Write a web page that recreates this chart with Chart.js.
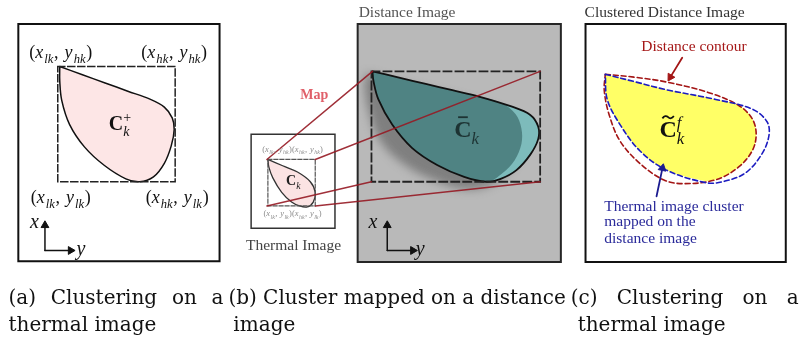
<!DOCTYPE html>
<html><head><meta charset="utf-8">
<script src="https://cdn.jsdelivr.net/npm/chart.js@4.4.1/dist/chart.umd.min.js"></script>
<style>html,body{margin:0;padding:0;background:#fff;overflow:hidden}</style>
</head><body>
<canvas id="c" width="811" height="347"></canvas>
<script>
const W = 811, H = 347;

// ---------- panel (a): clustering on a thermal image ----------
const boxA   = [[13,19],[217,19],[217,264],[13,264],[13,19]];
const rectA  = [[53,63],[172,63],[172,182],[53,182],[53,63]];
const shapeA = [[55,63],[78,71.5],[101,80],[124,88.5],[147,97],[161,105],[169,116],[171,128],[168,145],[161,163],[150,177],[136,182],[122,179],[100,165],[80,146],[65,123],[57,98],[55,78],[55,63]];
const axisAx = [[40,253],[40,227]];
const axisAy = [[40,253],[66,253]];

// ---------- panel (b): cluster mapped on a distance image ----------
const boxB    = [[357,19],[563,19],[563,265],[357,265],[357,19]];
const rectB   = [[371,68],[542,68],[542,182],[371,182],[371,68]];
const shadowB = [[366,70],[420,85],[470,98],[500,108],[520,122],[524,142],[514,165],[494,184],[468,190],[436,181],[404,164],[380,140],[368,108],[364,82],[366,70]];
const tealB   = [[372,68],[399,74.5],[426,81],[453,87.5],[480,94],[512,104],[532,113],[540,125],[540,138],[532,154],[518,170],[502,179],[487,182],[465,177],[438,165],[412,147],[392,123],[378,97],[373,78],[372,68]];
const darkB   = [[372,68],[399,74.5],[426,81],[453,87.5],[480,94],[503,101],[517,112],[523,127],[523,143],[516,160],[504,173],[489,182],[465,177],[438,165],[412,147],[392,123],[378,97],[373,78],[372,68]];
const thermBox   = [[249,133],[334,133],[334,230],[249,230],[249,133]];
const thermRect  = [[266,159],[314,159],[314,207],[266,207],[266,159]];
const thermShape = [[266,159],[281,165.5],[296,172],[309,182],[314,193],[312,203],[306,208],[298,207],[290,203],[280,193],[271,178],[267,167],[266,159]];
const mapLine1 = [[265,159],[372,68]];
const mapLine2 = [[314,159],[542,68]];
const mapLine3 = [[265,207],[371,182]];
const mapLine4 = [[314,207],[542,182]];
const axisBx = [[387,253],[387,227]];
const axisBy = [[387,253],[413,253]];

// ---------- panel (c): clustered distance image ----------
const boxC    = [[588,19],[791,19],[791,265],[588,265],[588,19]];
const yellowC = [[608,71],[639,79],[670,87],[720,97],[745,104],[757,117],[761,133],[757,150],[743,167],[722,179],[708,181],[670,170],[643,150],[623,123],[610,97],[608,71]];
const redC    = [[608,71],[637,74],[670,79],[713,90],[743,103],[757,117],[761,133],[757,150],[743,167],[720,180],[687,184],[667,180],[643,163],[623,140],[612,113],[607,88],[608,71]];
const blueC   = [[608,71],[639,79],[670,87],[720,97],[757,107],[772,120],[774,134],[767,153],[750,173],[727,182],[710,183],[670,170],[643,150],[623,123],[610,97],[608,71]];
const arrowRed  = [[686,54],[674,74]];
const arrowBlue = [[660,197],[666,168]];

// ---------- texts ----------
const mathLabels = [
  {s:'(x_{lk}, y_{hk})', x:56,  y:48,  size:18},
  {s:'(x_{hk}, y_{hk})', x:171, y:48,  size:18},
  {s:'(x_{lk}, y_{lk})', x:56,  y:198, size:18},
  {s:'(x_{hk}, y_{lk})', x:174, y:198, size:18},
  {s:'\\B{C}_k^+', x:116, y:122, size:20},
  {s:'x', x:30, y:223, size:20},
  {s:'y', x:77, y:251, size:20},
  {s:'(x_{lk}, y_{hk})(x_{hk}, y_{hk})', x:291, y:148, size:8.5, color:'#8c8c8c'},
  {s:'(x_{lk}, y_{lk})(x_{hk}, y_{lk})', x:291, y:215, size:8.5, color:'#8c8c8c'},
  {s:'\\B{C}_k', x:292, y:181, size:14, color:'#222'},
  {s:'\\O{C}_k', x:468, y:128, size:24, color:'#1d3333'},
  {s:'x', x:373, y:223, size:20, color:'#111'},
  {s:'y', x:421, y:251, size:20, color:'#111'},
  {s:'\\T{C}_k^f', x:676, y:128, size:24}
];
const textLabels = [
  {t:'Distance Image', x:358, y:8, size:15.5, align:'left', color:'#555'},
  {t:'Clustered Distance Image', x:587, y:8, size:15.5, align:'left', color:'#333'},
  {t:'Thermal Image', x:292, y:248, size:15.5, align:'center', color:'#444'},
  {t:'Map', x:313, y:93, size:14, align:'center', color:'#e0606a', bold:true},
  {t:'Distance contour', x:698, y:43, size:15.5, align:'center', color:'#a51818'},
  {t:'Thermal image cluster', x:607, y:208, size:15.5, align:'left', color:'#2a2a9a'},
  {t:'mapped on the', x:607, y:224, size:15.5, align:'left', color:'#2a2a9a'},
  {t:'distance image', x:607, y:241, size:15.5, align:'left', color:'#2a2a9a'}
];
const captions = [
  {words:['(a)','Clustering','on','a'], x0:3, x1:221, y:303, justify:true},
  {words:['thermal','image'], x0:3, y:331},
  {words:['(b)','Cluster','mapped','on','a','distance'], x0:226, x1:568, y:303, justify:true},
  {words:['image'], x0:231, y:331},
  {words:['(c)','Clustering','on','a'], x0:573, x1:804, y:303, justify:true},
  {words:['thermal','image'], x0:580, y:331}
];

// ---------- datasets ----------
const ds = [];
const P = a => a.map(p => ({x:p[0], y:p[1]}));
function add(points, o){
  ds.push(Object.assign({data:P(points), borderColor:'#111', borderWidth:1.5, pointRadius:0, pointHoverRadius:0,
    tension:0, fill:false, borderCapStyle:'round', borderJoinStyle:'round'}, o||{}));
}
function box(points, o){ add(points, Object.assign({borderCapStyle:'square', borderJoinStyle:'miter'}, o)); }
function arrow(seg, color, w){
  const a = seg[0], b = seg[1];
  const rot = Math.atan2(b[0]-a[0], -(b[1]-a[1])) * 180 / Math.PI;
  add(seg, {borderColor:color, borderWidth:w||1.5, pointRadius:[0,4.5], pointStyle:'triangle', rotation:[0,rot],
    pointBackgroundColor:color, pointBorderColor:color, pointBorderWidth:1});
}
const T = 0.35;

// (b) background + teal cluster
box(boxB, {areaColor:'#b9b9b9', borderColor:'#262626', borderWidth:2});
add(shadowB, {areaColor:'rgba(70,70,70,0.5)', areaBlur:5, borderWidth:0, tension:T});
add(tealB, {areaColor:'#7dbbbb', borderWidth:0, tension:T});
add(darkB, {areaColor:'#4f8383', borderWidth:0, tension:T});
add(tealB, {borderColor:'#111', borderWidth:1.8, tension:T});
box(rectB, {borderColor:'#222', borderWidth:1.8, borderDash:[8,4]});
// thermal image
box(thermBox, {areaColor:'#ffffff', borderColor:'#333', borderWidth:1.5});
add(thermShape, {areaColor:'#fbe3e3', borderColor:'#333', borderWidth:1.3, tension:T});
box(thermRect, {borderColor:'#555', borderWidth:1.2, borderDash:[4,2]});
// map lines
[mapLine1, mapLine2, mapLine3, mapLine4].forEach(l => add(l, {borderColor:'rgba(150,25,35,0.9)', borderWidth:1.5}));
// (a)
box(boxA, {borderColor:'#111', borderWidth:2});
add(shapeA, {areaColor:'#fde6e6', borderColor:'#111', borderWidth:1.5, tension:T});
box(rectA, {borderColor:'#222', borderWidth:1.5, borderDash:[7,3]});
arrow(axisAx, '#111'); arrow(axisAy, '#111');
arrow(axisBx, '#111'); arrow(axisBy, '#111');
// (c)
box(boxC, {borderColor:'#111', borderWidth:2});
add(yellowC, {areaColor:'#ffff66', borderWidth:0, tension:T});
add(redC, {borderColor:'#a31515', borderWidth:1.6, borderDash:[5,3], tension:T});
add(blueC, {borderColor:'#1c1cc0', borderWidth:1.6, borderDash:[5,3], tension:T});
arrow(arrowRed, '#a31515', 1.8);
arrow(arrowBlue, '#1c1c90', 1.8);

ds.forEach((d, i) => d.order = ds.length - i);

// ---------- plugins ----------
const areaPlugin = {
  id:'areas',
  beforeDatasetDraw(chart, args){
    const d = chart.data.datasets[args.index];
    if (!d.areaColor) return;
    const line = args.meta.dataset;
    if (!line) return;
    const ctx = chart.ctx;
    ctx.save();
    if (d.areaBlur) ctx.filter = 'blur(' + d.areaBlur + 'px)';
    line.updateControlPoints(chart.chartArea, 'x');
    ctx.beginPath();
    line.path(ctx);
    ctx.closePath();
    ctx.fillStyle = d.areaColor;
    ctx.fill();
    ctx.restore();
  }
};

function parseMath(s){
  const toks = []; let i = 0;
  const group = j => { if (s[j] === '{') { const k = s.indexOf('}', j); return [s.slice(j+1, k), k+1]; } return [s[j], j+1]; };
  while (i < s.length){
    const c = s[i];
    if (c === '_' || c === '^'){ const [g, n] = group(i+1); toks.push({t:g, kind: c === '_' ? 'sub' : 'sup'}); i = n; continue; }
    if (c === '\\'){ const cmd = s[i+1]; const [g, n] = group(i+2); toks.push({t:g, kind:'bold', acc: cmd === 'T' ? 'tilde' : (cmd === 'O' ? 'bar' : null)}); i = n; continue; }
    toks.push({t:c, kind: /[a-zA-Z]/.test(c) ? 'it' : 'rm'}); i++;
  }
  return toks;
}
function drawMath(ctx, s, cx, cy, size, color){
  const fam = '"Liberation Serif", serif';
  const toks = parseMath(s);
  let x = 0, prev = null, sStart = 0, sW = 0;
  const items = [];
  for (const t of toks){
    const letter = /^[a-zA-Z]+$/.test(t.t);
    let font, dy = 0, fs = size;
    if (t.kind === 'sub' || t.kind === 'sup'){
      fs = size * 0.7; dy = t.kind === 'sub' ? size * 0.28 : -size * 0.4;
      font = (letter ? 'italic ' : '') + fs + 'px ' + fam;
    } else if (t.kind === 'bold') font = 'bold ' + size + 'px ' + fam;
    else if (t.kind === 'it') font = 'italic ' + size + 'px ' + fam;
    else font = size + 'px ' + fam;
    ctx.font = font;
    let w = ctx.measureText(t.t).width;
    if (t.t === ' ') w = size * 0.28;
    if (t.t === ',') w += size * 0.05;
    if (t.kind === 'it') w += size * 0.06;
    if (t.kind === 'sub') w += size * 0.04;
    let ix = x;
    const script = t.kind === 'sub' || t.kind === 'sup';
    if (script && (prev === 'sub' || prev === 'sup') && prev !== t.kind){
      ix = sStart; x = sStart + Math.max(sW, w);
    } else {
      if (script){ sStart = x; sW = w; }
      x += w;
    }
    items.push({txt:t.t, font, ix, dy, w, acc:t.acc});
    prev = t.kind;
  }
  const x0 = cx - x / 2, base = cy + size * 0.33;
  ctx.fillStyle = color; ctx.strokeStyle = color;
  ctx.textAlign = 'left'; ctx.textBaseline = 'alphabetic';
  for (const it of items){
    ctx.font = it.font;
    if (it.txt !== ' ') ctx.fillText(it.txt, x0 + it.ix, base + it.dy);
    if (it.acc){
      const ax = x0 + it.ix + it.w / 2, ay = base - size * 0.84;
      ctx.lineWidth = Math.max(1, size * 0.075);
      ctx.beginPath();
      if (it.acc === 'bar'){ ctx.moveTo(ax - it.w * 0.28, ay); ctx.lineTo(ax + it.w * 0.28, ay); }
      else {
        const hw = it.w * 0.33, h = size * 0.05;
        ctx.moveTo(ax - hw, ay + h);
        ctx.quadraticCurveTo(ax - hw / 2, ay - 2.2 * h, ax, ay);
        ctx.quadraticCurveTo(ax + hw / 2, ay + 2.2 * h, ax + hw, ay - h);
      }
      ctx.stroke();
    }
  }
}

const textPlugin = {
  id:'texts',
  afterDatasetsDraw(chart){
    const ctx = chart.ctx, sx = chart.scales.x, sy = chart.scales.y;
    const px = v => sx.getPixelForValue(v), py = v => sy.getPixelForValue(v);
    ctx.save();
    for (const m of mathLabels) drawMath(ctx, m.s, px(m.x), py(m.y), m.size, m.color || '#111');
    for (const t of textLabels){
      ctx.font = (t.bold ? 'bold ' : '') + t.size + 'px "Liberation Serif", serif';
      ctx.fillStyle = t.color; ctx.textAlign = t.align; ctx.textBaseline = 'middle';
      ctx.fillText(t.t, px(t.x), py(t.y));
    }
    ctx.font = '20px "DejaVu Serif", serif';
    ctx.fillStyle = '#111'; ctx.textAlign = 'left'; ctx.textBaseline = 'middle';
    for (const c of captions){
      const ws = c.words.map(w => ctx.measureText(w).width);
      const tot = ws.reduce((a, b) => a + b, 0);
      const space = ctx.measureText(' ').width;
      const gap = (c.justify && c.words.length > 1) ? (px(c.x1) - px(c.x0) - tot) / (c.words.length - 1) : space;
      let x = px(c.x0);
      c.words.forEach((w, i) => { ctx.fillText(w, x, py(c.y)); x += ws[i] + gap; });
    }
    ctx.restore();
  }
};

new Chart(document.getElementById('c'), {
  type:'line',
  data:{datasets:ds},
  options:{
    responsive:false, animation:false, devicePixelRatio:1, events:[],
    layout:{padding:0},
    scales:{
      x:{type:'linear', min:0, max:W, display:false},
      y:{type:'linear', min:0, max:H, reverse:true, display:false}
    },
    plugins:{legend:{display:false}, tooltip:{enabled:false}}
  },
  plugins:[areaPlugin, textPlugin]
});
</script>
</body></html>
